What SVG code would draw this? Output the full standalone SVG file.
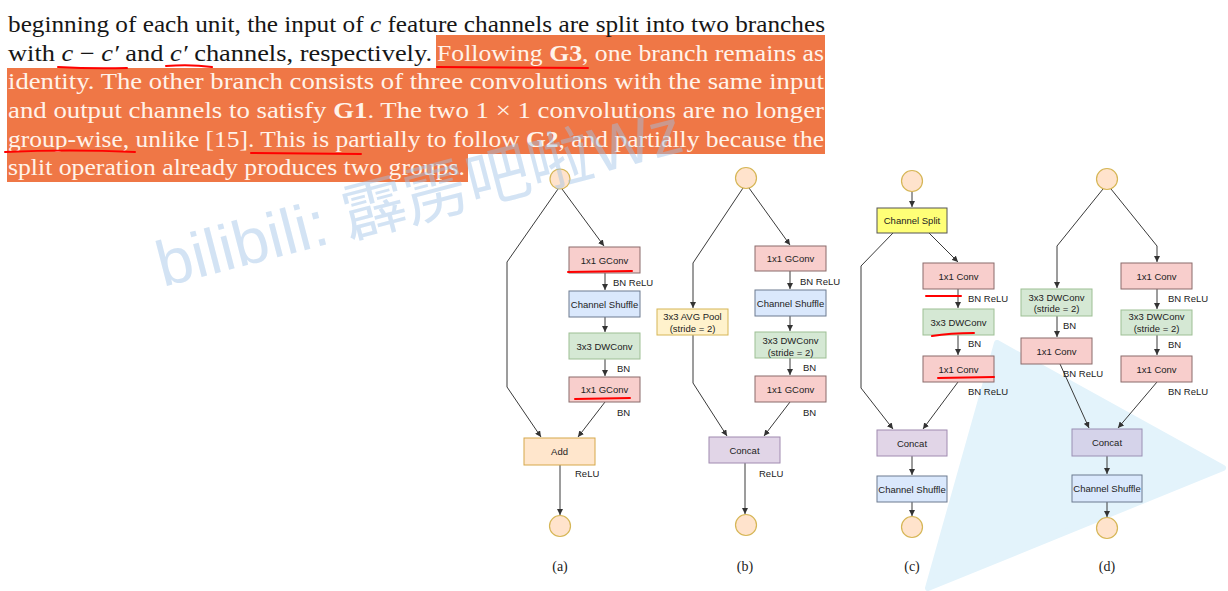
<svg xmlns="http://www.w3.org/2000/svg" width="1228" height="591" viewBox="0 0 1228 591">
<style>
.t{font-family:"Liberation Serif","Times New Roman",serif;font-size:23px;fill:#161616}
.th{fill:#FFF3EA}
.b{font-weight:bold}
.i{font-style:italic}
.n{font-family:"Liberation Sans",Arial,sans-serif;font-size:9.5px;fill:#222;text-anchor:middle}
.l{font-family:"Liberation Sans",Arial,sans-serif;font-size:9.5px;fill:#222}
.cap{font-family:"Liberation Serif","Times New Roman",serif;font-size:14px;text-anchor:middle;fill:#222}
.e{fill:none;stroke:#3a3a3a;stroke-width:1;marker-end:url(#ah)}
.pen{fill:none;stroke:#ff0000;stroke-width:2;stroke-linecap:round}
.red{fill:#F8CECC;stroke:#8a6b6b;stroke-width:1}
.blue{fill:#DAE8FC;stroke:#6c7b90;stroke-width:1}
.green{fill:#D5E8D4;stroke:#9dbf94;stroke-width:1}
.orange{fill:#FFE6CC;stroke:#d6a84a;stroke-width:1}
.yel{fill:#FFF2CC;stroke:#d6b656;stroke-width:1}
.purp{fill:#E1D5E7;stroke:#a08ab0;stroke-width:1}
.split{fill:#FFFF77;stroke:#555;stroke-width:1}
.io{fill:#FFE3CC;stroke:#d6b656;stroke-width:1.2}
.wm{font-family:"Liberation Sans","Noto Sans CJK SC",sans-serif;font-size:64px;fill:#9EC3E8;opacity:0.45}
</style>
<defs>
<marker id="ah" markerWidth="7" markerHeight="6" refX="6" refY="3" orient="auto" markerUnits="userSpaceOnUse"><path d="M0,0 L6,3 L0,6 Z" fill="#333"/></marker>
</defs>
<rect width="1228" height="591" fill="#ffffff"/>

<g id="paragraph">
<path d="M436,35 H825 V154 H468 V182 H7 V68 H436 Z" fill="#EF7746"/>
<text class="t" x="8" y="32" textLength="817" lengthAdjust="spacingAndGlyphs">beginning of each unit, the input of <tspan class="i">c</tspan> feature channels are split into two branches</text>
<text class="t" x="8" y="61" textLength="424" lengthAdjust="spacingAndGlyphs">with <tspan class="i">c</tspan> − <tspan class="i">c′</tspan> and <tspan class="i">c′</tspan> channels, respectively.</text>
<text class="t th" x="437" y="61" textLength="387" lengthAdjust="spacingAndGlyphs">Following <tspan class="b">G3</tspan>, one branch remains as</text>
<text class="t th" x="8" y="89" textLength="816" lengthAdjust="spacingAndGlyphs">identity. The other branch consists of three convolutions with the same input</text>
<text class="t th" x="8" y="118" textLength="816" lengthAdjust="spacingAndGlyphs">and output channels to satisfy <tspan class="b">G1</tspan>. The two 1 × 1 convolutions are no longer</text>
<text class="t th" x="8" y="146.5" textLength="816" lengthAdjust="spacingAndGlyphs">group-wise, unlike [15]. This is partially to follow <tspan class="b">G2</tspan>, and partially because the</text>
<text class="t th" x="8" y="175" textLength="457" lengthAdjust="spacingAndGlyphs">split operation already produces two groups.</text>
</g>

<path d="M997,343 L1223,468 L928,588 Z" fill="#E3F3FB" stroke="#E3F3FB" stroke-width="6" stroke-linejoin="round"/>

<g id="connectors">
<path class="e" d="M562,189 L604,246"/>
<path class="e" d="M558,189 L507,262 L507,387 L541,437"/>
<path class="e" d="M605,273 L605,290"/>
<path class="e" d="M605,317 L605,332"/>
<path class="e" d="M605,359 L605,376"/>
<path class="e" d="M605,402 L578,437"/>
<path class="e" d="M560,465 L560,515"/>

<path class="e" d="M749,188 L790,245"/>
<path class="e" d="M743,188 L693,263 L693,308"/>
<path class="e" d="M790,271 L790,289"/>
<path class="e" d="M790,316 L790,331"/>
<path class="e" d="M790,358 L790,375"/>
<path class="e" d="M790,402 L764,436"/>
<path class="e" d="M693,335 L693,383 L727,436"/>
<path class="e" d="M745,463 L745,514"/>

<path class="e" d="M912,191 L912,207"/>
<path class="e" d="M929,233 L958,262"/>
<path class="e" d="M893,233 L861,266 L861,388 L893,429"/>
<path class="e" d="M958,289 L958,308"/>
<path class="e" d="M958,335 L958,355"/>
<path class="e" d="M958,382 L923,429"/>
<path class="e" d="M912,456 L912,475"/>
<path class="e" d="M912,502 L912,516"/>

<path class="e" d="M1103,189 L1057,246 L1057,288"/>
<path class="e" d="M1111,189 L1157,246 L1157,262"/>
<path class="e" d="M1057,316 L1057,337"/>
<path class="e" d="M1060,364 L1089,428"/>
<path class="e" d="M1157,289 L1157,309"/>
<path class="e" d="M1157,335 L1157,355"/>
<path class="e" d="M1157,382 L1118,428"/>
<path class="e" d="M1107,456 L1107,474"/>
<path class="e" d="M1107,502 L1107,517"/>
</g>

<g id="a-in"><circle class="io" cx="560" cy="179" r="10"/></g>
<g id="a-gconv1"><rect class="red" x="569" y="247" width="71" height="26"/><text class="n" x="604.5" y="263.5">1x1 GConv</text></g>
<g id="a-shuffle"><rect class="blue" x="569" y="291" width="71" height="26"/><text class="n" x="604.5" y="307.5">Channel Shuffle</text></g>
<g id="a-dw"><rect class="green" x="569" y="333" width="71" height="26"/><text class="n" x="604.5" y="349.5">3x3 DWConv</text></g>
<g id="a-gconv2"><rect class="red" x="569" y="377" width="71" height="25"/><text class="n" x="604.5" y="393">1x1 GConv</text></g>
<g id="a-add"><rect class="orange" x="524" y="438" width="71" height="27"/><text class="n" x="559.5" y="455">Add</text></g>
<g id="a-out"><circle class="io" cx="560" cy="526" r="10.5"/></g>
<g id="a-labels">
<text class="l" x="613" y="286">BN ReLU</text>
<text class="l" x="617" y="372">BN</text>
<text class="l" x="617" y="416">BN</text>
<text class="l" x="575" y="477">ReLU</text>
<text class="cap" x="560" y="571">(a)</text>
</g>

<g id="b-in"><circle class="io" cx="746" cy="178" r="10.5"/></g>
<g id="b-gconv1"><rect class="red" x="755" y="246" width="71" height="25"/><text class="n" x="790.5" y="262">1x1 GConv</text></g>
<g id="b-shuffle"><rect class="blue" x="755" y="290" width="71" height="26"/><text class="n" x="790.5" y="306.5">Channel Shuffle</text></g>
<g id="b-dw"><rect class="green" x="755" y="332" width="71" height="26"/><text class="n" x="790.5" y="343.5">3x3 DWConv</text><text class="n" x="790.5" y="355.5">(stride = 2)</text></g>
<g id="b-gconv2"><rect class="red" x="755" y="376" width="71" height="26"/><text class="n" x="790.5" y="392.5">1x1 GConv</text></g>
<g id="b-pool"><rect class="yel" x="657" y="309" width="71" height="26"/><text class="n" x="692.5" y="319.5">3x3 AVG Pool</text><text class="n" x="692.5" y="331.5">(stride = 2)</text></g>
<g id="b-concat"><rect class="purp" x="709" y="437" width="71" height="26"/><text class="n" x="744.5" y="453.5">Concat</text></g>
<g id="b-out"><circle class="io" cx="746" cy="525" r="10.5"/></g>
<g id="b-labels">
<text class="l" x="800" y="285">BN ReLU</text>
<text class="l" x="803" y="371">BN</text>
<text class="l" x="803" y="416">BN</text>
<text class="l" x="759" y="477">ReLU</text>
<text class="cap" x="745" y="571">(b)</text>
</g>

<g id="c-in"><circle class="io" cx="912" cy="181" r="10.5"/></g>
<g id="c-split"><rect class="split" x="877" y="208" width="70" height="25"/><text class="n" x="912" y="224">Channel Split</text></g>
<g id="c-conv1"><rect class="red" x="923" y="263" width="71" height="26"/><text class="n" x="958.5" y="279.5">1x1 Conv</text></g>
<g id="c-dw"><rect class="green" x="923" y="309" width="71" height="26"/><text class="n" x="958.5" y="325.5">3x3 DWConv</text></g>
<g id="c-conv2"><rect class="red" x="923" y="356" width="71" height="26"/><text class="n" x="958.5" y="372.5">1x1 Conv</text></g>
<g id="c-concat"><rect class="purp" x="877" y="430" width="70" height="26"/><text class="n" x="912" y="446.5">Concat</text></g>
<g id="c-shuffle"><rect class="blue" x="877" y="476" width="70" height="26"/><text class="n" x="912" y="492.5">Channel Shuffle</text></g>
<g id="c-out"><circle class="io" cx="912" cy="527" r="10.5"/></g>
<g id="c-labels">
<text class="l" x="968" y="302">BN ReLU</text>
<text class="l" x="968" y="347">BN</text>
<text class="l" x="968" y="395">BN ReLU</text>
<text class="cap" x="912" y="571">(c)</text>
</g>

<g id="d-in"><circle class="io" cx="1107" cy="179" r="10.5"/></g>
<g id="d-ldw"><rect class="green" x="1021" y="289" width="71" height="27"/><text class="n" x="1056.5" y="300.5">3x3 DWConv</text><text class="n" x="1056.5" y="311.5">(stride = 2)</text></g>
<g id="d-lconv"><rect class="red" x="1021" y="338" width="71" height="26"/><text class="n" x="1056.5" y="354.5">1x1 Conv</text></g>
<g id="d-rconv1"><rect class="red" x="1121" y="263" width="71" height="26"/><text class="n" x="1156.5" y="279.5">1x1 Conv</text></g>
<g id="d-rdw"><rect class="green" x="1121" y="310" width="71" height="25"/><text class="n" x="1156.5" y="319.5">3x3 DWConv</text><text class="n" x="1156.5" y="331.5">(stride = 2)</text></g>
<g id="d-rconv2"><rect class="red" x="1121" y="356" width="71" height="26"/><text class="n" x="1156.5" y="372.5">1x1 Conv</text></g>
<g id="d-concat"><rect x="1072" y="429" width="70" height="27" fill="#D5D3EA" stroke="#9a90b4" stroke-width="1"/><text class="n" x="1107" y="446">Concat</text></g>
<g id="d-shuffle"><rect class="blue" x="1072" y="475" width="70" height="27"/><text class="n" x="1107" y="492">Channel Shuffle</text></g>
<g id="d-out"><circle class="io" cx="1107" cy="528" r="10.5"/></g>
<g id="d-labels">
<text class="l" x="1063" y="329">BN</text>
<text class="l" x="1063" y="377">BN ReLU</text>
<text class="l" x="1168" y="302">BN ReLU</text>
<text class="l" x="1168" y="348">BN</text>
<text class="l" x="1168" y="395">BN ReLU</text>
<text class="cap" x="1107" y="571">(d)</text>
</g>

<g id="pen-marks">
<path class="pen" d="M58,67 Q92,69 127,68"/>
<path class="pen" d="M166,66 Q190,64 212,67"/>
<path class="pen" d="M437,67 L588,68"/>
<path class="pen" d="M5,152 Q70,149 135,152"/>
<path class="pen" d="M251,153 L361,154"/>
<path class="pen" d="M568,272 L632,271"/>
<path class="pen" d="M575,399 L630,398"/>
<path class="pen" d="M926,296 L961,296"/>
<path class="pen" d="M932,336 Q950,333 974,333"/>
<path class="pen" d="M938,378 L994,377"/>
</g>

<text class="wm" x="163" y="287" transform="rotate(-14.6 163 287)">bilibili: 霹雳吧啦Wz</text>
</svg>
